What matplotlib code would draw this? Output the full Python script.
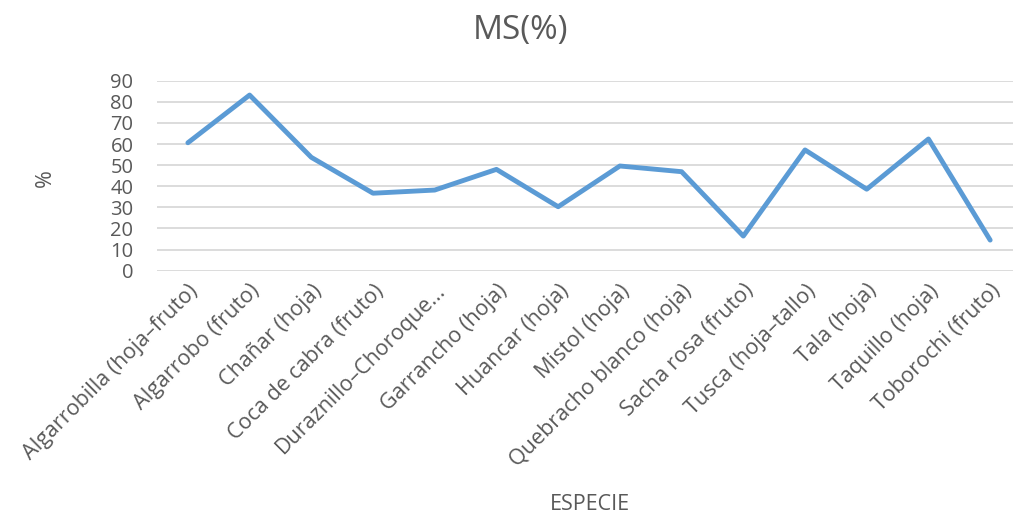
import matplotlib
matplotlib.use("Agg")
import matplotlib.pyplot as plt

especies = [
    "Algarrobilla (hoja\u2013fruto)", "Algarrobo (fruto)", "Cha\u00f1ar (hoja)",
    "Coca de cabra (fruto)", "Duraznillo\u2013Choroque...", "Garrancho (hoja)",
    "Huancar (hoja)", "Mistol (hoja)", "Quebracho blanco (hoja)",
    "Sacha rosa (fruto)", "Tusca (hoja\u2013tallo)", "Tala (hoja)",
    "Taquillo (hoja)", "Toborochi (fruto)",
]
ms = [60.6, 83.2, 53.7, 36.7, 38.2, 48.0, 30.3, 49.6, 46.9, 16.4, 57.2, 38.6, 62.4, 14.5]
yticks = list(range(0, 100, 10))

plt.rcParams["font.family"] = ["Open Sans", "DejaVu Sans"]
grey = "#595959"

fig = plt.figure(figsize=(10.13, 5.18), dpi=100)
ax = fig.add_axes([0.155, 1 - 270.7 / 518, 0.845, 190 / 518])

x = list(range(len(especies)))
ax.plot(x, ms, color="#5B9BD5", linewidth=3.5, solid_joinstyle="round",
        solid_capstyle="round", zorder=3)

ax.set_ylim(0, 90)
ax.set_xlim(-0.5, 13.37)
ax.set_yticks(yticks)
ax.set_yticklabels([str(v) for v in yticks], color=grey, fontsize=14.5)
ax.set_xticks(x)
ax.set_xticklabels(especies, rotation=45, ha="right", rotation_mode="anchor",
                   color=grey, fontsize=15.5)
ax.tick_params(axis="both", length=0)
ax.tick_params(axis="y", pad=17)
ax.tick_params(axis="x", pad=7)
ax.grid(axis="y", color="#d9d9d9", linewidth=1.3, zorder=0)
for s in ax.spines.values():
    s.set_visible(False)
ax.set_axisbelow(True)

fig.text(521 / 1013, 1 - 30 / 518, "MS(%)", ha="center", va="center",
         fontsize=24, color=grey)
fig.text(45 / 1013, 1 - 178 / 518, "%", ha="center", va="center",
         rotation=90, fontsize=15.5, color=grey)
fig.text(590 / 1013, 1 - 505 / 518, "ESPECIE", ha="center", va="center",
         fontsize=15.5, color=grey)

fig.savefig("out.png", dpi=100)
